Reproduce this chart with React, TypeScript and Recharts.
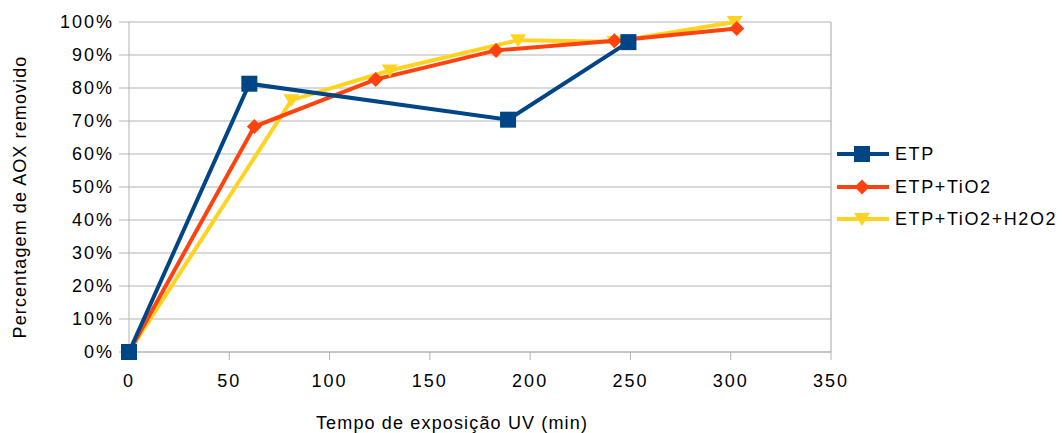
import React from "react";
import { LineChart, Line, XAxis, YAxis, CartesianGrid, ReferenceLine } from "recharts";

const xTicks = [0, 50, 100, 150, 200, 250, 300, 350];
const yTicks = [0, 10, 20, 30, 40, 50, 60, 70, 80, 90, 100];

const etpTime = [0, 60, 189, 249];
const etpValues = [0, 81.3, 70.4, 93.9];

const tio2Time = [0, 62.5, 123, 183, 242, 303];
const tio2Values = [0, 68.3, 82.6, 91.4, 94.3, 98];

const h2o2Time = [0, 81, 130, 194, 242, 302];
const h2o2Values = [0, 76.3, 85.3, 94.5, 94, 100];

const seriesNames = ["ETP", "ETP+TiO2", "ETP+TiO2+H2O2"];
const colors = ["#004586", "#ff420e", "#ffd320"];

const toRows = (t: number[], v: number[]) => t.map((x, i) => ({ x, y: v[i] }));
const etpData = toRows(etpTime, etpValues);
const tio2Data = toRows(tio2Time, tio2Values);
const h2o2Data = toRows(h2o2Time, h2o2Values);

const FONT = "'Liberation Sans', Arial, sans-serif";
const GRID = "#b3b3b3";

const Marker = ({ kind, cx, cy, color }: { kind: number; cx: number; cy: number; color: string }) => {
  if (kind === 0) {
    return <rect x={cx - 8} y={cy - 8} width={16} height={16} fill={color} />;
  }
  if (kind === 1) {
    return (
      <polygon
        points={`${cx},${cy - 7.5} ${cx + 7.5},${cy} ${cx},${cy + 7.5} ${cx - 7.5},${cy}`}
        fill={color}
      />
    );
  }
  return (
    <polygon points={`${cx - 8},${cy - 6} ${cx + 8},${cy - 6} ${cx},${cy + 7}`} fill={color} />
  );
};

const makeDot = (kind: number) => (props: any) => {
  const { cx, cy, index } = props;
  if (cx == null || cy == null) return <g key={`d${kind}-${index}`} />;
  return (
    <g key={`d${kind}-${index}`}>
      <Marker kind={kind} cx={cx} cy={cy} color={colors[kind]} />
    </g>
  );
};

const LegendBox = () => (
  <div
    style={{
      position: "absolute",
      left: 837,
      top: 138,
      width: 226,
      fontFamily: FONT,
      fontSize: 18,
      letterSpacing: 1.6,
      color: "#000",
    }}
  >
    {seriesNames.map((n, i) => (
      <div key={n} style={{ display: "flex", alignItems: "center", height: 32.5 }}>
        <svg width={52} height={20} style={{ display: "block" }}>
          <line x1={0} y1={10} x2={52} y2={10} stroke={colors[i]} strokeWidth={4} />
          <Marker kind={i} cx={25} cy={10} color={colors[i]} />
        </svg>
        <span style={{ marginLeft: 6, lineHeight: "20px", whiteSpace: "nowrap" }}>{n}</span>
      </div>
    ))}
  </div>
);

const YTitle = () => (
  <text
    x={26}
    y={197}
    transform="rotate(-90, 26, 197)"
    textAnchor="middle"
    fontFamily={FONT}
    fontSize={18}
    letterSpacing={1.1}
    fill="#000"
  >
    Percentagem de AOX removido
  </text>
);

const XTitle = () => (
  <text
    x={452}
    y={429}
    textAnchor="middle"
    fontFamily={FONT}
    fontSize={18}
    letterSpacing={1.15}
    fill="#000"
  >
    Tempo de exposição UV (min)
  </text>
);

export default function App() {
  return (
    <div style={{ position: "absolute", left: 0, top: 0, width: 1063, height: 433, background: "#fff" }}>
      <LineChart
        width={1063}
        height={433}
        margin={{ top: 22, right: 232, bottom: 21, left: 0 }}
      >
        <CartesianGrid horizontal vertical={false} stroke={GRID} strokeWidth={1.2} />
        <XAxis
          type="number"
          dataKey="x"
          domain={[0, 350]}
          ticks={xTicks}
          height={60}
          allowDuplicatedCategory={false}
          stroke={GRID}
          tickSize={8}
          tickMargin={14}
          tick={{ fill: "#000", fontSize: 18, fontFamily: FONT, letterSpacing: 2 }}
          interval={0}
        />
        <YAxis
          type="number"
          dataKey="y"
          domain={[0, 100]}
          ticks={yTicks}
          width={129}
          stroke={GRID}
          tickSize={10}
          tickMargin={5}
          tickFormatter={(v: number) => `${v}%`}
          tick={{ fill: "#000", fontSize: 18, fontFamily: FONT, letterSpacing: 2 }}
          interval={0}
        />
        <ReferenceLine x={350} stroke={GRID} strokeWidth={1.2} />
        <Line
          data={h2o2Data}
          dataKey="y"
          name={seriesNames[2]}
          type="linear"
          stroke={colors[2]}
          strokeWidth={4}
          dot={makeDot(2)}
          activeDot={false}
          isAnimationActive={false}
        />
        <Line
          data={tio2Data}
          dataKey="y"
          name={seriesNames[1]}
          type="linear"
          stroke={colors[1]}
          strokeWidth={4}
          dot={makeDot(1)}
          activeDot={false}
          isAnimationActive={false}
        />
        <Line
          data={etpData}
          dataKey="y"
          name={seriesNames[0]}
          type="linear"
          stroke={colors[0]}
          strokeWidth={4}
          dot={makeDot(0)}
          activeDot={false}
          isAnimationActive={false}
        />
      </LineChart>
      <LegendBox />
      <svg
        width={1063}
        height={433}
        style={{ position: "absolute", left: 0, top: 0, pointerEvents: "none" }}
      >
        <YTitle />
        <XTitle />
      </svg>
    </div>
  );
}
